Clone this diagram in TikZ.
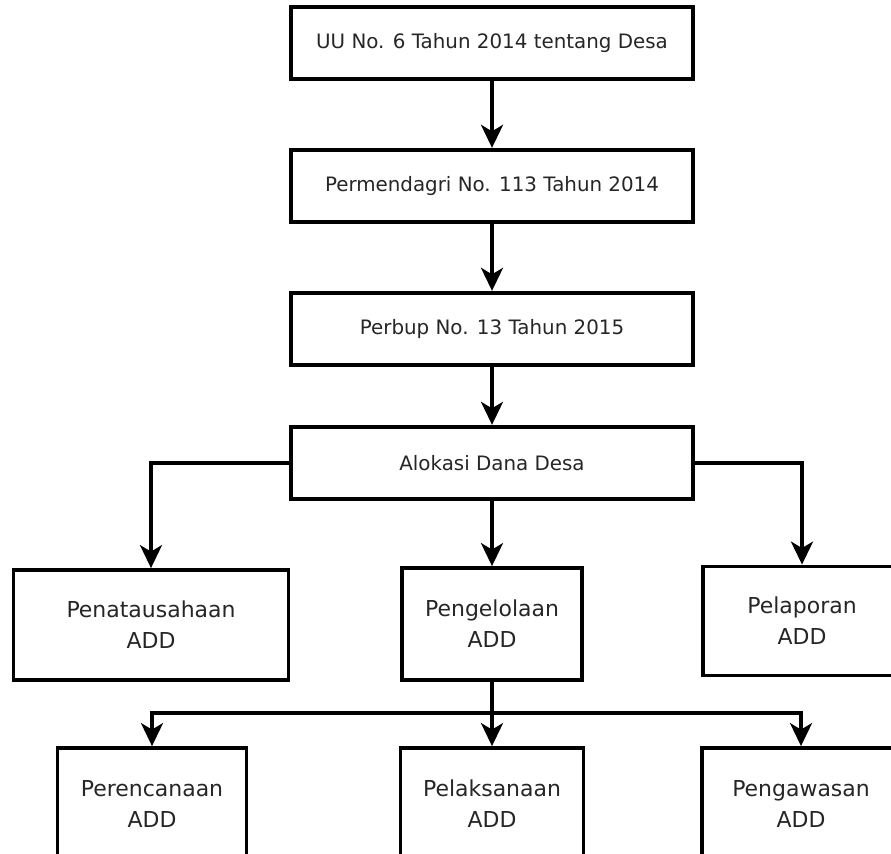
\documentclass[tikz,border=0pt]{standalone}
\usepackage{fontspec}
\setmainfont{DejaVu Sans}
\usepackage{tikz}
\usetikzlibrary{arrows.meta,calc}

\begin{document}
\begin{tikzpicture}[x=0.02cm,y=-0.02cm,
    box/.style={draw,line width=2.2pt,text=black!85,inner sep=0pt},
    law/.style={box,minimum width=8.04cm,minimum height=1.45cm,font=\fontsize{11.3}{14}\selectfont},
    part/.style={box,align=center,font=\fontsize{12.5}{17.5}\selectfont}]
    \useasboundingbox (0,0) rectangle (891,853);
    \clip (0,0) rectangle (891,853);
    \node[law] (A0) at (492,43) {UU No. 6 Tahun 2014 tentang Desa};
    \node[law] (A1) at (492,186) {Permendagri No. 113 Tahun 2014};
    \node[law] (A2) at (492,329) {Perbup No. 13 Tahun 2015};
    \node[law] (A3) at (492,463) {Alokasi Dana Desa};
    \node[part,minimum width=5.5cm,minimum height=2.2cm] (B0) at (151,625) {Penatausahaan\\ADD};
    \node[part,minimum width=3.6cm,minimum height=2.24cm] (B1) at (492,624) {Pengelolaan\\ADD};
    \node[part,minimum width=3.96cm,minimum height=2.18cm] (B2) at (802,621) {Pelaporan\\ADD};
    \node[part,minimum width=3.78cm,minimum height=2.24cm] (C0) at (152,804) {Perencanaan\\ADD};
    \node[part,minimum width=3.66cm,minimum height=2.24cm] (C1) at (492,804) {Pelaksanaan\\ADD};
    \node[part,minimum width=3.96cm,minimum height=2.24cm] (C2) at (801,804) {Pengawasan\\ADD};
    \coordinate (S) at (492,713);
    \path[->,line width=2pt,>={Stealth[length=0.46cm,width=0.44cm,inset=0.13cm]}]
      (A0) edge (A1)
      (A1) edge (A2)
      (A2) edge (A3)
      (A3) edge (B1)
      (S) edge (C1);
    \draw[->,line width=2pt,>={Stealth[length=0.46cm,width=0.44cm,inset=0.13cm]}]
      (A3) -| (B0);
    \draw[->,line width=2pt,>={Stealth[length=0.46cm,width=0.44cm,inset=0.13cm]}]
      (A3) -| (B2);
    \draw[line width=2pt] (B1) -- (S);
    \draw[->,line width=2pt,>={Stealth[length=0.46cm,width=0.44cm,inset=0.13cm]}]
      (S) -| (C0);
    \draw[->,line width=2pt,>={Stealth[length=0.46cm,width=0.44cm,inset=0.13cm]}]
      (S) -| (C2);
\end{tikzpicture}
\end{document}
